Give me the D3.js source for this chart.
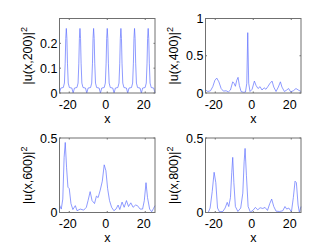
<!DOCTYPE html>
<html>
<head>
<meta charset="utf-8">
<script src="https://cdn.jsdelivr.net/npm/d3@7"></script>
<style>
  body { margin: 0; background: #fff; }
  text { font-family: "Liberation Sans", Arial, sans-serif; }
</style>
</head>
<body>
<div id="wrapper"></div>
<script>
// u(x,200): seven equal peaks
const x200 = [-25.13, -24.44, -23.14, -22.54, -22.14, -21.84, -21.54, -21.24, -20.94, -20.54, -19.94, -18.64,
  -17.95, -17.26, -15.96, -15.36, -14.96, -14.66, -14.36, -14.06, -13.76, -13.36, -12.76, -11.46,
  -10.77, -10.08, -8.78, -8.18, -7.78, -7.48, -7.18, -6.88, -6.58, -6.18, -5.58, -4.28,
  -3.59, -2.9, -1.6, -1.0, -0.6, -0.3, 0, 0.3, 0.6, 1.0, 1.6, 2.9,
  3.59, 4.28, 5.58, 6.18, 6.58, 6.88, 7.18, 7.48, 7.78, 8.18, 8.78, 10.08,
  10.77, 11.46, 12.76, 13.36, 13.76, 14.06, 14.36, 14.66, 14.96, 15.36, 15.96, 17.26,
  17.95, 18.64, 19.94, 20.54, 20.94, 21.24, 21.54, 21.84, 22.14, 22.54, 23.14, 24.44, 25.13]
const y200 = [0, 0.02, 0.022, 0.04, 0.12, 0.22, 0.26, 0.22, 0.12, 0.04, 0.022, 0.02,
  0, 0.02, 0.022, 0.04, 0.12, 0.22, 0.26, 0.22, 0.12, 0.04, 0.022, 0.02,
  0, 0.02, 0.022, 0.04, 0.12, 0.22, 0.26, 0.22, 0.12, 0.04, 0.022, 0.02,
  0, 0.02, 0.022, 0.04, 0.12, 0.22, 0.26, 0.22, 0.12, 0.04, 0.022, 0.02,
  0, 0.02, 0.022, 0.04, 0.12, 0.22, 0.26, 0.22, 0.12, 0.04, 0.022, 0.02,
  0, 0.02, 0.022, 0.04, 0.12, 0.22, 0.26, 0.22, 0.12, 0.04, 0.022, 0.02,
  0, 0.02, 0.022, 0.04, 0.12, 0.22, 0.26, 0.22, 0.12, 0.04, 0.022, 0.02, 0]

// u(x,400)
const x400 = [-25.13, -23.9, -22.5, -21.3, -20.2, -19.2, -18.1, -16.9, -15.7, -14.3, -13.1, -12.0,
  -10.8, -10.1, -9.4, -8.7, -8.0, -7.3, -6.4, -5.2, -4.1, -3.4, -2.9, -2.4, -1.7, -0.6,
  0.6, 1.5, 2.5, 3.6, 4.6, 5.7, 6.7, 7.8, 8.8, 9.9, 10.8, 12.0, 13.2, 14.3, 15.1,
  16.4, 17.6, 18.6, 19.7, 21.1, 22.5, 23.7, 25.13]
const y400 = [0.04, 0.02, 0.03, 0.085, 0.17, 0.2, 0.15, 0.06, 0.025, 0.03, 0.015, 0.04,
  0.15, 0.13, 0.09, 0.17, 0.21, 0.1, 0.02, 0.01, 0.012, 0.13, 0.81, 0.13, 0.02, 0.05,
  0.16, 0.1, 0.06, 0.085, 0.04, 0.07, 0.05, 0.09, 0.13, 0.16, 0.08, 0.02, 0.08, 0.15, 0.08,
  0.02, 0.04, 0.06, 0.015, 0.03, 0.06, 0.04, 0.02]

// u(x,600)
const x600 = [-25.13, -24.2, -23.4, -22.7, -22.1, -21.4, -20.7, -20.0, -19.1, -18.1, -16.8, -15.9,
  -14.2, -12.4, -11.0, -10.1, -9.0, -8.0, -6.7, -5.7, -4.8, -3.7, -2.6, -1.6, -0.7,
  0.2, 1.2, 2.3, 3.5, 4.6, 5.7, 6.6, 7.8, 8.9, 10.1, 11.2, 12.4, 13.6, 14.9, 15.9,
  17.3, 18.6, 19.5, 20.4, 21.2, 22.3, 23.4, 24.4, 25.13]
const y600 = [0.05, 0.023, 0.09, 0.37, 0.47, 0.3, 0.17, 0.16, 0.06, 0.02, 0.046, 0.012,
  0.023, 0.016, 0.035, 0.08, 0.14, 0.08, 0.06, 0.11, 0.1, 0.15, 0.21, 0.32, 0.28,
  0.16, 0.08, 0.035, 0.012, 0.023, 0.05, 0.02, 0.07, 0.035, 0.08, 0.04, 0.065, 0.035, 0.05, 0.046,
  0.023, 0.023, 0.08, 0.2, 0.1, 0.023, 0.005, 0.028, 0.046]

// u(x,800)
const x800 = [-25.13, -23.7, -22.7, -21.6, -20.6, -19.7, -18.8, -17.8, -16.0, -14.8, -13.7, -12.9,
  -12.0, -11.3, -10.8, -10.2, -9.4, -8.1, -6.6, -5.5, -4.8, -4.3, -3.6, -2.7, -1.5,
  0.1, 1.1, 2.4, 3.6, 5.0, 6.2, 7.5, 8.7, 9.7, 10.8, 12.0, 13.8, 15.5, 16.7, 17.6,
  18.7, 20.1, 21.1, 22.0, 22.7, 23.6, 24.3, 25.13]
const y800 = [0, 0, 0.03, 0.14, 0.27, 0.2, 0.03, 0.005, 0.007, 0.03, 0.068, 0.04,
  0.1, 0.27, 0.37, 0.2, 0.04, 0.007, 0.03, 0.13, 0.34, 0.43, 0.25, 0.04, 0.002,
  0.018, 0.034, 0.018, 0.032, 0.027, 0.034, 0.014, 0.06, 0.09, 0.04, 0.009, 0.007, 0.011, 0.04, 0.023,
  0.03, 0.005, 0.1, 0.21, 0.2, 0.05, 0, 0.04]

const xTicks = [-20, 0, 20]
const xDomain = [-8 * Math.PI, 8 * Math.PI]

const panels = [
  { t: "200", xs: x200, ys: y200, yMax: 0.3, yTicks: [0, 0.1, 0.2] },
  { t: "400", xs: x400, ys: y400, yMax: 1, yTicks: [0, 0.5, 1] },
  { t: "600", xs: x600, ys: y600, yMax: 0.5, yTicks: [0, 0.5] },
  { t: "800", xs: x800, ys: y800, yMax: 0.5, yTicks: [0, 0.5] }
]

const width = 332
const height = 250
const cols = [59.5, 205.5]
const rows = [18.5, 138]
const boxW = 95.5
const boxH = 74.5

const svg = d3.select("#wrapper")
  .append("svg")
    .attr("width", width)
    .attr("height", height)

panels.forEach((p, i) => {
  const left = cols[i % 2]
  const top = rows[Math.floor(i / 2)]

  const xScale = d3.scaleLinear().domain(xDomain).range([0, boxW])
  const yScale = d3.scaleLinear().domain([0, p.yMax]).range([boxH, 0])

  const g = svg.append("g")
    .attr("transform", `translate(${left}, ${top})`)

  const line = d3.line()
    .x(d => xScale(d[0]))
    .y(d => yScale(d[1]))

  g.append("path")
    .datum(p.xs.map((x, j) => [x, p.ys[j]]))
    .attr("d", line)
    .attr("fill", "none")
    .attr("stroke", "#5f70ff")
    .attr("stroke-width", 0.7)

  // box
  g.append("rect")
    .attr("width", boxW)
    .attr("height", boxH)
    .attr("fill", "none")
    .attr("stroke", "#707070")
    .attr("stroke-width", 1)

  // inward ticks on all four sides
  xTicks.forEach(t => {
    g.append("line").attr("x1", xScale(t)).attr("x2", xScale(t)).attr("y1", boxH).attr("y2", boxH - 1.5)
      .attr("stroke", "#707070")
    g.append("line").attr("x1", xScale(t)).attr("x2", xScale(t)).attr("y1", 0).attr("y2", 1.5)
      .attr("stroke", "#707070")
    g.append("text")
      .attr("x", xScale(t) - 1.5)
      .attr("y", boxH + 15.5)
      .attr("text-anchor", "middle")
      .attr("font-size", 12.5)
      .text(t < 0 ? "-" + Math.abs(t) : t)
  })
  p.yTicks.forEach(t => {
    g.append("line").attr("x1", 0).attr("x2", 1.5).attr("y1", yScale(t)).attr("y2", yScale(t))
      .attr("stroke", "#707070")
    g.append("line").attr("x1", boxW).attr("x2", boxW - 1.5).attr("y1", yScale(t)).attr("y2", yScale(t))
      .attr("stroke", "#707070")
    g.append("text")
      .attr("x", -2)
      .attr("y", yScale(t) + 4.5)
      .attr("text-anchor", "end")
      .attr("font-size", 12.5)
      .text(t)
  })

  g.append("text")
    .attr("x", boxW / 2)
    .attr("y", boxH + 29.5)
    .attr("text-anchor", "middle")
    .attr("font-size", 12.5)
    .text("x")

  const yl = g.append("text")
    .attr("transform", `translate(-28, ${boxH / 2}) rotate(-90)`)
    .attr("text-anchor", "middle")
    .attr("font-size", 12.5)
  yl.append("tspan").text(`|u(x,${p.t})|`)
  yl.append("tspan").attr("dy", -5).attr("font-size", 9).text("2")
})
</script>
</body>
</html>
